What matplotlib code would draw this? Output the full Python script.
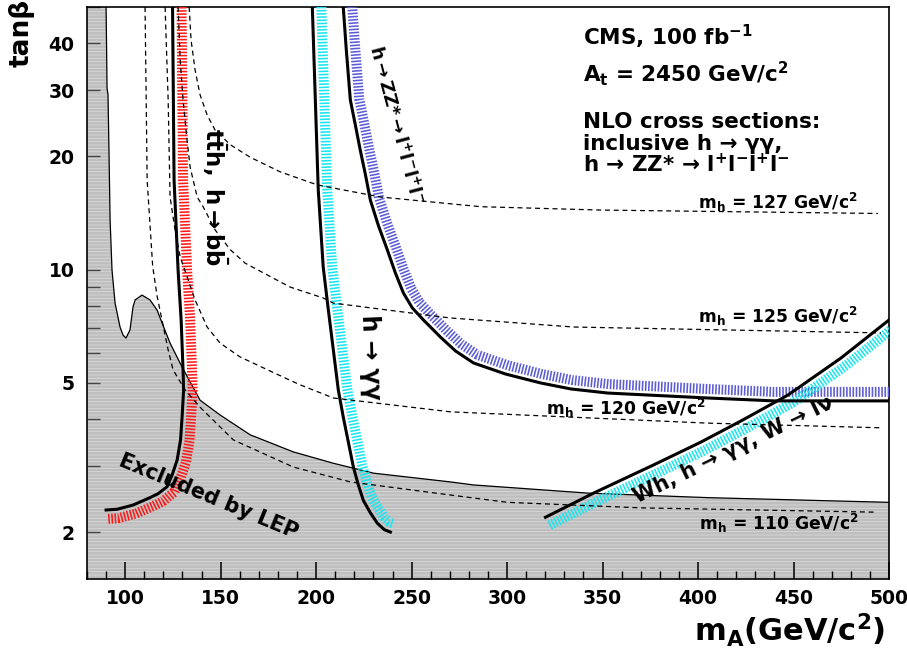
import numpy as np
import matplotlib.pyplot as plt
from matplotlib.ticker import NullFormatter

plt.rcParams['font.family'] = ['DejaVu Sans']
plt.rcParams['font.weight'] = 'bold'
plt.rcParams['mathtext.default'] = 'bf'
plt.rcParams['hatch.linewidth'] = 0.6

# LEP excluded region boundary (mA, tan beta)
lep_ma = [90.0, 90.5, 91.0, 91.5, 92.1, 93.1, 94.7, 97.3, 98.9, 100.4, 102.5, 104.1,
          105.2, 108.8, 113.0, 116.7, 119.3, 123.5, 129.8, 139.2, 149.7, 165.5, 188.0,
          209.0, 230.0, 270.3, 282.4, 342.2, 405.1, 500.0]
lep_tb = [50, 30.4, 29.2, 20.8, 13.5, 9.97, 8.14, 7.03, 6.69, 6.57, 6.90, 7.95,
          8.30, 8.55, 8.30, 7.80, 7.21, 6.37, 5.50, 4.49, 4.10, 3.63, 3.27,
          3.05, 2.87, 2.72, 2.67, 2.54, 2.47, 2.40]

# m_h iso-lines
mh110_ma = [110.4, 111.5, 114.4, 116.7, 122.5, 125.1, 131.4, 139.2, 156.6, 188.0, 217.9,
            270.3, 300.2, 370.0, 492.0]
mh110_tb = [50, 17.3, 10.2, 8.5, 6.11, 5.40, 4.78, 4.30, 3.52, 2.98, 2.72,
            2.51, 2.40, 2.32, 2.26]
mh120_ma = [120.9, 122.5, 123.5, 126.1, 128.8, 133.0, 136.6, 142.9, 149.7, 160.2, 182.8,
            191.7, 209.0, 270.3, 405.1, 495.8]
mh120_tb = [50, 28.3, 15.6, 12.75, 10.8, 9.38, 8.30, 7.03, 6.37, 5.85, 5.17,
            4.93, 4.55, 4.18, 3.90, 3.79]
mh125_ma = [127.7, 128.8, 130.3, 132.4, 134.0, 135.6, 137.7, 140.8, 147.1, 155.0, 162.8,
            172.3, 186.4, 203.7, 209.0, 270.3, 334.8, 495.8]
mh125_tb = [50, 36.1, 28.3, 22.1, 18.75, 17.3, 15.6, 14.7, 12.75, 11.3, 10.4,
            9.8, 8.98, 8.4, 8.14, 7.43, 7.03, 6.78]
mh127_ma = [133.5, 134.5, 136.6, 139.2, 142.9, 147.1, 155.0, 165.5, 181.2, 200.6, 233.6,
            286.1, 349.0, 494.2]
mh127_tb = [50, 40.8, 34.0, 29.2, 25.8, 23.5, 21.5, 19.9, 18.2, 16.8, 15.6,
            14.7, 14.4, 14.1]

# 5 sigma discovery contours
tth_ma = [124.8, 125.6, 127.7, 129.3, 130.3, 130.6, 129.8, 129.0, 127.2, 124.6, 121.9,
          117.2, 113.0, 104.1, 95.7, 90.0]
tth_tb = [50, 17.3, 9.97, 7.34, 5.40, 4.78, 4.05, 3.52, 3.11, 2.84, 2.64,
          2.53, 2.47, 2.36, 2.30, 2.29]
gg_ma = [198.0, 201.1, 203.7, 206.4, 209.0, 211.6, 214.2, 219.5, 222.1, 224.7, 228.4,
         232.1, 235.7, 238.9]
gg_tb = [50, 16.3, 10.16, 7.80, 6.11, 4.78, 4.05, 2.98, 2.67, 2.43, 2.25,
         2.11, 2.03, 2.0]
zz_ma = [214.2, 215.8, 217.9, 220.5, 223.1, 225.8, 228.4, 232.6, 237.3, 241.5, 245.7,
         250.4, 256.2, 265.1, 273.0, 282.4, 299.2, 317.5, 333.3, 352.7, 405.1, 439.7, 500.0]
zz_tb = [50, 38.4, 28.3, 24.3, 20.8, 17.9, 15.3, 13.1, 11.27, 9.79, 8.66,
         7.90, 7.34, 6.61, 6.07, 5.64, 5.27, 4.99, 4.81, 4.69, 4.55, 4.47, 4.47]
wh_ma = [320.1, 345.3, 376.8, 401.4, 422.4, 447.0, 474.8, 500.0]
wh_tb = [2.19, 2.54, 3.02, 3.47, 3.95, 4.63, 5.81, 7.34]


def hatched_side(ax, x, y, color, sign=1, off_px=9, width_px=10):
    # ROOT-style hatching on one side of a contour: thick dashed line shifted along the normal
    pts = ax.transData.transform(np.column_stack([x, y]))
    d = np.gradient(pts, axis=0)
    n = np.column_stack([-d[:, 1], d[:, 0]])
    n /= np.linalg.norm(n, axis=1)[:, None]
    shifted = ax.transData.inverted().transform(pts + sign * off_px * n)
    lw = width_px * 0.72
    stroke = 1.15 / lw
    ax.plot(shifted[:, 0], shifted[:, 1], color=color, lw=lw,
            ls=(0, (stroke, stroke)), dash_capstyle='butt', zorder=3)


fig = plt.figure(figsize=(9.07, 6.52), dpi=100)
ax = fig.add_axes([87 / 907, 73 / 652, 802 / 907, 572 / 652])
ax.set_yscale('log')
ax.set_xlim(80, 500)
ax.set_ylim(1.5, 50)

# LEP excluded area
ax.fill(lep_ma + [500, 80, 80], lep_tb + [1.5, 1.5, 50], facecolor='#bebebe',
        edgecolor='#d8d8d8', hatch='-----', lw=0, zorder=1)
ax.plot(lep_ma, lep_tb, color='black', lw=0.9, zorder=2)

hatched_side(ax, tth_ma, tth_tb, '#ff1a1a')
hatched_side(ax, gg_ma, gg_tb, '#19e6f0')
hatched_side(ax, zz_ma, zz_tb, '#5c5cd6')
hatched_side(ax, wh_ma, wh_tb, '#19e6f0', sign=-1)

for xs, ys in [(mh110_ma, mh110_tb), (mh120_ma, mh120_tb),
               (mh125_ma, mh125_tb), (mh127_ma, mh127_tb)]:
    ax.plot(xs, ys, color='black', lw=0.9, ls=(0, (4, 3)), zorder=4)

for xs, ys in [(tth_ma, tth_tb), (gg_ma, gg_tb), (zz_ma, zz_tb), (wh_ma, wh_tb)]:
    ax.plot(xs, ys, color='black', lw=2.2, zorder=5, solid_joinstyle='round')

# axes styling
ax.set_xticks(np.arange(100, 501, 50))
ax.set_xticks(np.arange(80, 501, 10), minor=True)
ax.set_yticks([2, 5, 10, 20, 30, 40])
ax.set_yticklabels(['2', '5', '10', '20', '30', '40'])
ax.set_yticks([3, 4, 6, 7, 8, 9, 50], minor=True)
ax.yaxis.set_minor_formatter(NullFormatter())
ax.tick_params(axis='x', which='major', direction='in', length=12, width=1.1, pad=7, labelsize=13.5)
ax.tick_params(axis='x', which='minor', direction='in', length=6, width=1.0)
ax.tick_params(axis='y', which='both', direction='in', length=9, width=1.0, color='#444444',
               pad=9, labelsize=13.5)
for sp in ax.spines.values():
    sp.set_linewidth(1.2)

ax.text(-0.082, 0.955, 'tanβ', transform=ax.transAxes, rotation=90, fontsize=19,
        ha='center', va='center')
ax.text(0.876, -0.089, r'm$_{A}$(GeV/c$^{2}$)', transform=ax.transAxes, fontsize=22,
        ha='center', va='center')

# header text
hdr = dict(transform=ax.transAxes, fontsize=15.5, ha='left', va='baseline')
ax.text(0.619, 0.9336, r'CMS, 100 fb$^{-1}$', **hdr)
ax.text(0.619, 0.869, r'A$_{t}$ = 2450 GeV/c$^{2}$', **hdr)
ax.text(0.619, 0.7885, 'NLO cross sections:', **hdr)
ax.text(0.619, 0.750, 'inclusive h → γγ,', **hdr)
ax.text(0.619, 0.7115, r'h → ZZ* → l$^{+}$l$^{-}$l$^{+}$l$^{-}$', **hdr)

# m_h labels
mh = dict(transform=ax.transAxes, fontsize=12.3, ha='left', va='baseline')
ax.text(0.7615, 0.647, r'm$_{h}$ = 127 GeV/c$^{2}$', **mh)
ax.text(0.7615, 0.4476, r'm$_{h}$ = 125 GeV/c$^{2}$', **mh)
ax.text(0.5718, 0.2867, r'm$_{h}$ = 120 GeV/c$^{2}$', **mh)
ax.text(0.7628, 0.0857, r'm$_{h}$ = 110 GeV/c$^{2}$', **mh)

# channel labels
lab = dict(transform=ax.transAxes, ha='center', va='center', rotation_mode='anchor', zorder=6)
ax.text(0.1598, 0.668, r'$t\bar{t}h,\ h\rightarrow b\bar{b}$', rotation=-90, fontsize=16.5, **lab)
ax.text(0.3845, 0.794, r'h$\rightarrow$ZZ*$\rightarrow$l$^{+}$l$^{-}$l$^{+}$l$^{-}$',
        rotation=-75, fontsize=13, **lab)
ax.text(0.3533, 0.388, 'h → γγ', rotation=-88, fontsize=17, **lab)
ax.text(0.151, 0.145, 'Excluded by LEP', rotation=-22.5, fontsize=15, **lab)
ax.text(0.8065, 0.2255, 'Wh, h → γγ, W → lν', rotation=26, fontsize=15, **lab)

fig.savefig('out.png', dpi=100)
